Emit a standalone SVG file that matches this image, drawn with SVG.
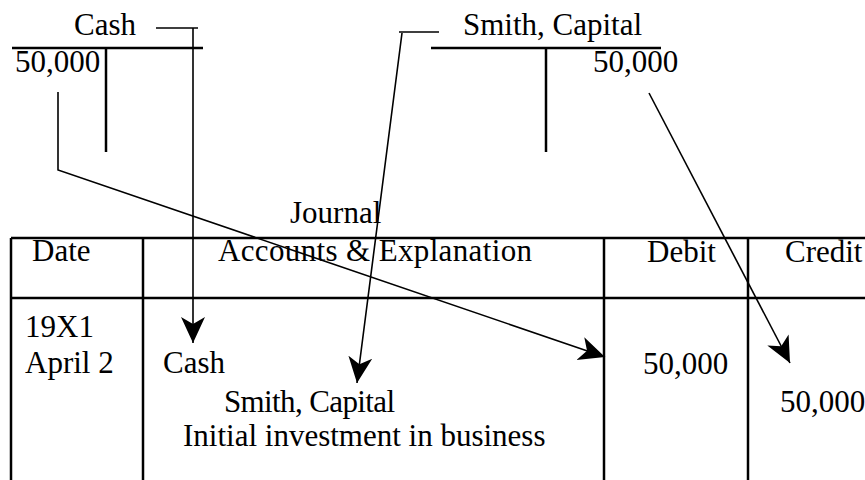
<svg xmlns="http://www.w3.org/2000/svg" width="865" height="480" viewBox="0 0 865 480">
<defs>
<style>
text{font-family:"Liberation Serif","Times New Roman",serif;font-size:31px;fill:#000}
.rule{stroke:#000;stroke-width:2.5;fill:none}
.conn{stroke:#000;stroke-width:1.6;fill:none}
</style>
<marker id="ah" markerUnits="userSpaceOnUse" markerWidth="30" markerHeight="26" refX="26" refY="12" orient="auto" viewBox="0 0 30 24">
<path d="M26,12 L0,0 L7,12 L0,24 Z" fill="#000"/>
</marker>
</defs>
<rect width="865" height="480" fill="#fff"/>

<g id="cash-account">
<text x="74" y="35">Cash</text>
<line class="rule" x1="12" y1="48" x2="203" y2="48"/>
<line class="rule" x1="106" y1="48" x2="106" y2="152"/>
<text x="15" y="72">50,000</text>
</g>

<g id="capital-account">
<text x="463" y="35" textLength="179">Smith, Capital</text>
<line class="rule" x1="431" y1="48" x2="661" y2="48"/>
<line class="rule" x1="546" y1="48" x2="546" y2="152"/>
<text x="593" y="72">50,000</text>
</g>

<g id="journal">
<text x="290" y="223">Journal</text>
<line class="rule" x1="11" y1="238" x2="865" y2="238"/>
<line class="rule" x1="11" y1="298" x2="865" y2="298"/>
<line class="rule" x1="11" y1="238" x2="11" y2="480"/>
<line class="rule" x1="143" y1="238" x2="143" y2="480"/>
<line class="rule" x1="604" y1="238" x2="604" y2="480"/>
<line class="rule" x1="748" y1="238" x2="748" y2="480"/>
<text x="32" y="261">Date</text>
<text x="218" y="261" textLength="314">Accounts &amp; Explanation</text>
<text x="647" y="262">Debit</text>
<text x="785" y="262">Credit</text>
<text x="25" y="337">19X1</text>
<text x="25" y="373">April 2</text>
<text x="163" y="373">Cash</text>
<text x="643" y="374">50,000</text>
<text x="224" y="412" textLength="171">Smith, Capital</text>
<text x="780" y="412">50,000</text>
<text x="183" y="446">Initial investment in business</text>
</g>

<g id="connectors">
<path class="conn" d="M156,28 H198 M193,28 V343" marker-end="url(#ah)"/>
<path class="conn" d="M399,32 H439 M402,33 L357,383" marker-end="url(#ah)"/>
<path class="conn" d="M58,92 V170 L605,357" marker-end="url(#ah)"/>
<path class="conn" d="M649,93 L790,363" marker-end="url(#ah)"/>
</g>
</svg>
